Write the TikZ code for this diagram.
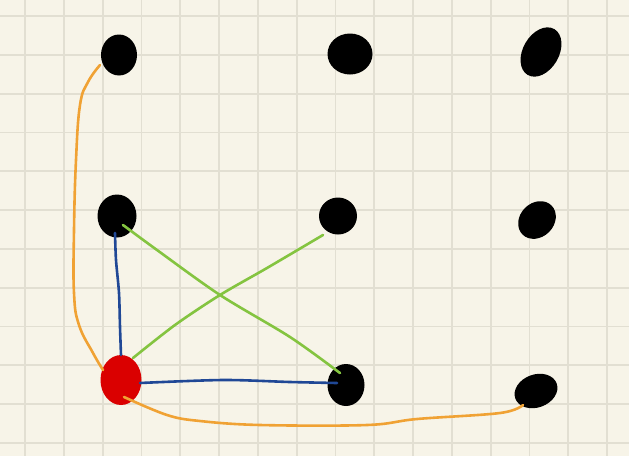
\documentclass[tikz,border=0pt]{standalone}
\usetikzlibrary{shapes.geometric}
\definecolor{paper}{RGB}{247,244,232}
\definecolor{gridc}{RGB}{226,223,210}
\definecolor{reddot}{RGB}{218,0,0}
\definecolor{orangel}{RGB}{240,162,52}
\definecolor{bluel}{RGB}{32,72,150}
\definecolor{greenl}{RGB}{132,196,64}
\tikzset{
  dot/.style={ellipse, fill=black, inner sep=0pt},
  reddotstyle/.style={ellipse, fill=reddot, inner sep=0pt},
  link/.style={line width=2.6pt, line cap=round, line join=round},
}
\begin{document}
\begin{tikzpicture}[x=1pt,y=-1pt]
\fill[paper] (0,0) rectangle (629,456);
\useasboundingbox (0,0) rectangle (629,456);
% grid
\foreach \k in {0,...,15} {\draw[gridc, line width=1.8pt] ({25+38.8*\k},0) -- ({25+38.8*\k},456);}
\foreach \k in {0,...,11} {\draw[gridc, line width=1.8pt] (0,{16+38.8*\k}) -- (629,{16+38.8*\k});}
% dots
\node[dot, minimum width=36pt, minimum height=41pt] (tl) at (119,55) {};
\node[dot, minimum width=45pt, minimum height=41pt] (tm) at (350,54) {};
\node[dot, minimum width=53pt, minimum height=36pt, rotate=60] (tr) at (541,52) {};
\node[dot, minimum width=39pt, minimum height=43pt] (ml) at (117,216) {};
\node[dot, minimum width=38pt, minimum height=37pt] (mm) at (338,216) {};
\node[dot, minimum width=41pt, minimum height=34pt, rotate=45] (mr) at (537,220) {};
\node[reddotstyle, minimum width=41pt, minimum height=50pt] (red) at (121,380) {};
\node[dot, minimum width=37pt, minimum height=42pt] (bm) at (346,385) {};
\node[dot, minimum width=44pt, minimum height=33pt, rotate=20] (br) at (536,391) {};
% connectors
\draw[link, orangel] plot[smooth, tension=0.7] coordinates {([shift={(-19,10)}]tl.center) (88,82) (80,105) (76,160) (74,230) (74,293) (79,325) (93,353) ([shift={(-18,-10)}]red.center)};
\draw[link, orangel] plot[smooth, tension=0.6] coordinates {([shift={(3,17)}]red.center) (167,415) (200,421) (260,425) (367,425) (417,419) (500,413) ([shift={(-13,14)}]br.center)};
\draw[link, bluel] plot[smooth] coordinates {([shift={(-2,17)}]ml.center) (116,260) (119,293) (120,327) ([shift={(0,-25)}]red.center)};
\draw[link, bluel] plot[smooth] coordinates {([shift={(19,3)}]red.center) (223,380) (290,382) ([shift={(-9,-2)}]bm.center)};
\draw[link, greenl] plot[smooth] coordinates {([shift={(6,9)}]ml.center) (157,250) (220,295) (290,337) ([shift={(-6,-12)}]bm.center)};
\draw[link, greenl] plot[smooth] coordinates {([shift={(12,-22)}]red.center) (175,325) (220,295) (267,268) ([shift={(-15,19)}]mm.center)};
\end{tikzpicture}
\end{document}
